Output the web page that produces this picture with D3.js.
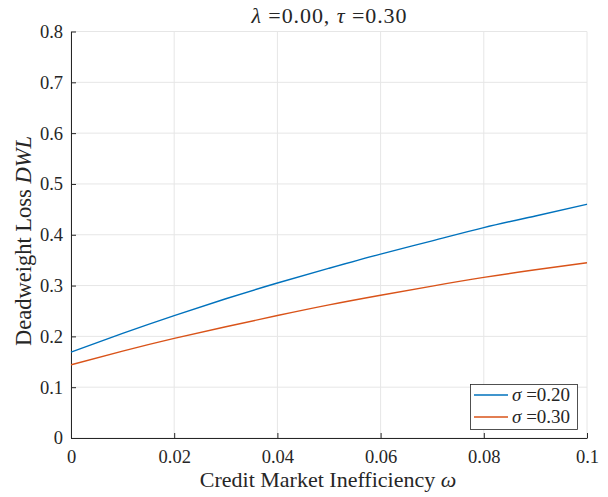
<!DOCTYPE html>
<html>
<head>
<meta charset="utf-8">
<script src="https://cdn.jsdelivr.net/npm/d3@7"></script>
<style>
  body { margin: 0; background: #fff; }
  text { font-family: "Liberation Serif", serif; fill: #262626; }
</style>
</head>
<body>
<svg id="chart" width="608" height="497"></svg>
<script>
// Daten
const omega = [0, 0.01, 0.02, 0.03, 0.04, 0.05, 0.06, 0.07, 0.08, 0.09, 0.1];
const dwlSigma20 = [0.169, 0.206, 0.241, 0.274, 0.305, 0.334, 0.362, 0.388, 0.414, 0.437, 0.460];
const dwlSigma30 = [0.144, 0.171, 0.196, 0.219, 0.241, 0.262, 0.281, 0.299, 0.316, 0.331, 0.345];
const seriesNames = ["0.20", "0.30"];
const xTicks = [0, 0.02, 0.04, 0.06, 0.08, 0.1];
const yTicks = [0, 0.1, 0.2, 0.3, 0.4, 0.5, 0.6, 0.7, 0.8];

const colors = ["#0072BD", "#D95319"];
const m = { left: 71, right: 21, top: 31.5, bottom: 59 };
const W = 608, H = 497;
const serif = '"Liberation Serif", serif';

const svg = d3.select("#chart");
const x = d3.scaleLinear().domain([0, 0.1]).range([m.left, W - m.right]);
const y = d3.scaleLinear().domain([0, 0.8]).range([H - m.bottom, m.top]);

// Gitter
const grid = svg.append("g");
grid.selectAll(".gx").data(xTicks).join("line")
  .attr("x1", d => x(d)).attr("x2", d => x(d))
  .attr("y1", y(0)).attr("y2", y(0.8))
  .attr("stroke", "#e6e6e6").attr("stroke-width", 1);
grid.selectAll(".gy").data(yTicks).join("line")
  .attr("x1", x(0)).attr("x2", x(0.1))
  .attr("y1", d => y(d)).attr("y2", d => y(d))
  .attr("stroke", "#e6e6e6").attr("stroke-width", 1);

// Achsen
const fmt = d => d === 0 ? "0" : String(d);
const xAxis = svg.append("g").attr("transform", `translate(0,${y(0)})`)
  .call(d3.axisBottom(x).tickValues(xTicks).tickFormat(fmt).tickSizeInner(-5).tickSizeOuter(0).tickPadding(12));
const yAxis = svg.append("g").attr("transform", `translate(${x(0)},0)`)
  .call(d3.axisLeft(y).tickValues(yTicks).tickFormat(fmt).tickSizeInner(-5).tickSizeOuter(0).tickPadding(8));
[xAxis, yAxis].forEach(a => {
  a.attr("font-family", null).attr("font-size", null);
  a.select(".domain").attr("stroke", "#262626").attr("stroke-width", 1);
  a.selectAll(".tick line").attr("stroke", "#262626");
  a.selectAll(".tick text")
    .style("font-family", serif)
    .style("font-size", "18.5px")
    .style("fill", "#262626");
});

// Linien
const line = d3.line().x((d, i) => x(omega[i])).y(d => y(d)).curve(d3.curveNatural);
[dwlSigma20, dwlSigma30].forEach((s, k) => {
  svg.append("path").datum(s)
    .attr("d", line)
    .attr("fill", "none")
    .attr("stroke", colors[k])
    .attr("stroke-width", 1.4);
});

// Titel
const title = svg.append("text")
  .attr("x", 329).attr("y", 22.5)
  .attr("text-anchor", "middle").style("font-size", "22px")
  .attr("textLength", 155).attr("lengthAdjust", "spacing");
title.append("tspan").style("font-style", "italic").text("λ");
title.append("tspan").text(" =0.00, ");
title.append("tspan").style("font-style", "italic").text("τ");
title.append("tspan").text(" =0.30");

// Achsentitel
const xl = svg.append("text")
  .attr("x", 328).attr("y", 487)
  .attr("text-anchor", "middle").style("font-size", "22px");
xl.append("tspan").text("Credit Market Inefficiency ");
xl.append("tspan").style("font-style", "italic").text("ω");

const yl = svg.append("text")
  .attr("transform", `translate(31,241) rotate(-90)`)
  .attr("text-anchor", "middle").style("font-size", "22.5px");
yl.append("tspan").text("Deadweight Loss ");
yl.append("tspan").style("font-style", "italic").text("DWL");

// Legende
const lg = svg.append("g");
lg.append("rect")
  .attr("x", 470.5).attr("y", 384.5).attr("width", 107).attr("height", 45)
  .attr("fill", "#fff").attr("stroke", "#262626").attr("stroke-width", 0.8);
seriesNames.forEach((n, k) => {
  const ry = 395 + k * 22;
  lg.append("line").attr("x1", 474).attr("x2", 508).attr("y1", ry).attr("y2", ry)
    .attr("stroke", colors[k]).attr("stroke-width", 1.4);
  const t = lg.append("text").attr("x", 512).attr("y", ry + 6).style("font-size", "19px");
  t.append("tspan").style("font-style", "italic").text("σ");
  t.append("tspan").text(" =" + n);
});
</script>
</body>
</html>
